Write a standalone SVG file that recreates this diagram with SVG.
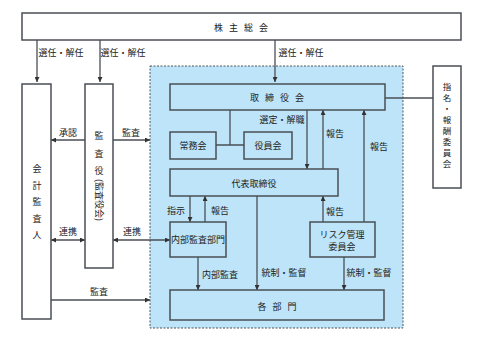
<svg xmlns="http://www.w3.org/2000/svg" width="481" height="342" viewBox="0 0 481 342">
<style>
.box{fill:#fff;stroke:#4a4f55;stroke-width:1.5}
.bbox{fill:#bde4f8;stroke:#4a4f55;stroke-width:1.5}
.ln{fill:none;stroke:#4a4f55;stroke-width:1.3}
text{font-family:"Noto Sans CJK JP","Noto Sans",sans-serif;font-size:9px;fill:#222;text-anchor:middle;dominant-baseline:central}
.sp{letter-spacing:6px}
.v{font-size:8.5px}
</style>
<defs>
<marker id="ah" viewBox="0 0 6 6" refX="6" refY="3" markerWidth="5" markerHeight="5" orient="auto-start-reverse" markerUnits="userSpaceOnUse">
<path d="M0,0L6,3L0,6Z" fill="#333"/>
</marker>
</defs>
<rect x="150" y="66" width="253" height="262" fill="#bde4f8" stroke="#555" stroke-width="1" stroke-dasharray="2,1.5"/>
<g id="connectors">
<path class="ln" d="M37,40V82" marker-end="url(#ah)"/>
<path class="ln" d="M100,40V82" marker-end="url(#ah)"/>
<path class="ln" d="M275,40V82" marker-end="url(#ah)"/>
<path class="ln" d="M385,98H433"/>
<path class="ln" d="M113,140H51" marker-end="url(#ah)"/>
<path class="ln" d="M113,140H150" marker-end="url(#ah)"/>
<path class="ln" d="M230,110V145M216,145H244"/>
<path class="ln" d="M307,110V169" marker-end="url(#ah)"/>
<path class="ln" d="M323,169V110" marker-end="url(#ah)"/>
<path class="ln" d="M364,222V110" marker-end="url(#ah)"/>
<path class="ln" d="M323,222V196" marker-end="url(#ah)"/>
<path class="ln" d="M190,196V222" marker-end="url(#ah)"/>
<path class="ln" d="M205,222V196" marker-end="url(#ah)"/>
<path class="ln" d="M51,240H85" marker-start="url(#ah)" marker-end="url(#ah)"/>
<path class="ln" d="M113,240H170" marker-start="url(#ah)" marker-end="url(#ah)"/>
<path class="ln" d="M198,257V290" marker-end="url(#ah)"/>
<path class="ln" d="M257,196V290" marker-end="url(#ah)"/>
<path class="ln" d="M344,257V290" marker-end="url(#ah)"/>
<path class="ln" d="M51,300H150" marker-end="url(#ah)"/>
<text x="61" y="52">選任・解任</text>
<text x="123" y="52">選任・解任</text>
<text x="301" y="52">選任・解任</text>
<text x="68" y="132">承認</text>
<text x="131" y="132">監査</text>
<text x="282" y="119">選定・解職</text>
<text x="335" y="133">報告</text>
<text x="379" y="146">報告</text>
<text x="335" y="211">報告</text>
<text x="176" y="210">指示</text>
<text x="220" y="210">報告</text>
<text x="68" y="231">連携</text>
<text x="132" y="231">連携</text>
<text x="220" y="274">内部監査</text>
<text x="284" y="272">統制・監督</text>
<text x="369" y="272">統制・監督</text>
<text x="99" y="291">監査</text>
</g>
<g id="shareholders">
<rect class="box" x="22" y="13" width="439" height="27"/>
<text x="244" y="27" class="sp">株主総会</text>
</g>
<g id="auditor">
<rect class="box" x="22" y="84" width="29" height="235"/>
<text x="37" y="168">会</text>
<text x="37" y="185">計</text>
<text x="37" y="201">監</text>
<text x="37" y="218">査</text>
<text x="37" y="234">人</text>
</g>
<g id="kansayaku">
<rect class="box" x="85" y="84" width="28" height="184"/>
<text x="99" y="135">監</text>
<text x="99" y="153">査</text>
<text x="99" y="170">役</text>
<text transform="translate(99,200) rotate(90)">(監査役会)</text>
</g>
<g id="nomination">
<rect class="box" x="433" y="66" width="28" height="122"/>
<text class="v" x="447" y="86">指</text>
<text class="v" x="447" y="97">名</text>
<text class="v" x="447" y="108">・</text>
<text class="v" x="447" y="119">報</text>
<text class="v" x="447" y="130">酬</text>
<text class="v" x="447" y="141">委</text>
<text class="v" x="447" y="152">員</text>
<text class="v" x="447" y="163">会</text>
</g>
<g id="board">
<rect class="bbox" x="170" y="84" width="215" height="26"/>
<text x="280" y="97" class="sp">取締役会</text>
</g>
<g id="jomukai">
<rect class="bbox" x="170" y="132" width="46" height="27"/>
<text x="193" y="145">常務会</text>
</g>
<g id="yakuinkai">
<rect class="bbox" x="244" y="132" width="48" height="27"/>
<text x="268" y="145">役員会</text>
</g>
<g id="ceo">
<rect class="bbox" x="170" y="169" width="168" height="27"/>
<text x="254" y="183">代表取締役</text>
</g>
<g id="internal-audit">
<rect class="bbox" x="170" y="222" width="56" height="35"/>
<text x="198" y="239">内部監査部門</text>
</g>
<g id="risk">
<rect class="bbox" x="310" y="222" width="65" height="35"/>
<text x="342" y="234">リスク管理</text>
<text x="342" y="246">委員会</text>
</g>
<g id="departments">
<rect class="bbox" x="170" y="290" width="214" height="30"/>
<text x="280" y="306" class="sp">各部門</text>
</g>
</svg>
